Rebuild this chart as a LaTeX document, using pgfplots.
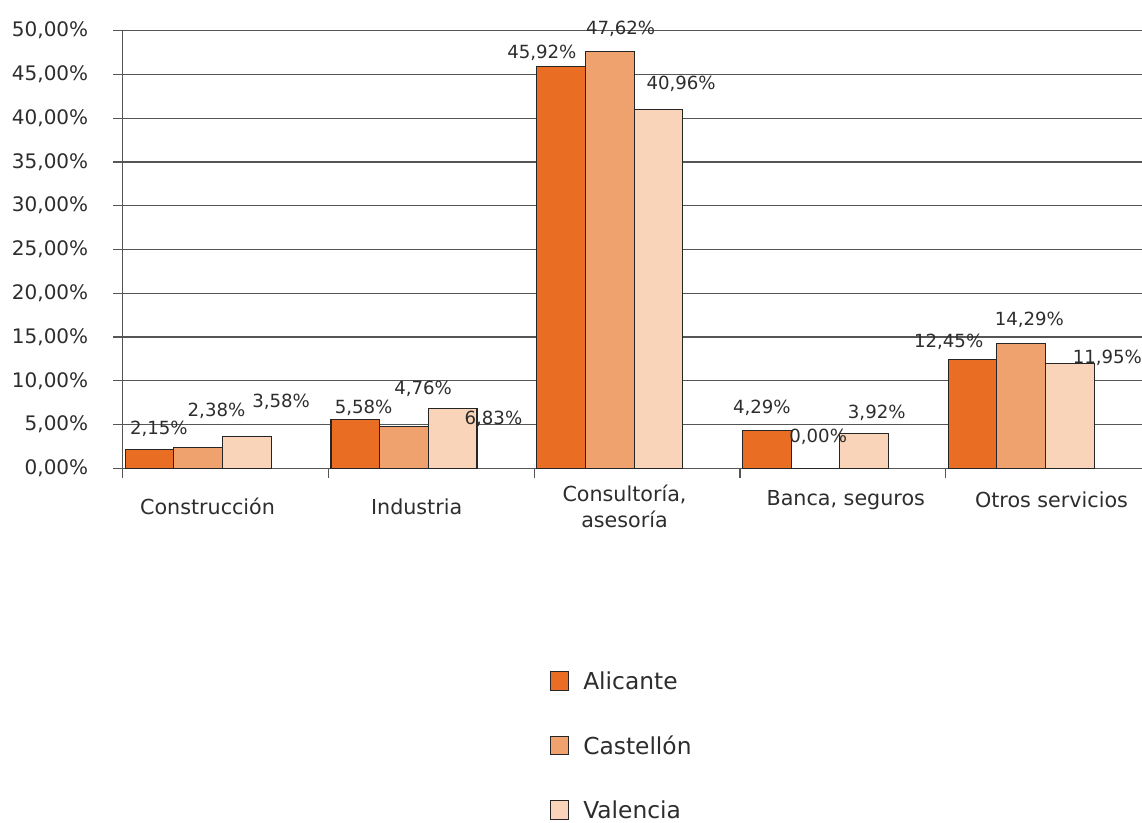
\documentclass[border=0pt]{standalone}
\usepackage{fontspec}
\setmainfont{DejaVu Sans}
\usepackage{pgfplots}
\pgfplotsset{compat=1.18}
\usepackage{pgfplotstable}

\definecolor{alic}{RGB}{233,110,35}
\definecolor{cast}{RGB}{240,162,110}
\definecolor{vale}{RGB}{249,212,184}
\definecolor{txt}{RGB}{45,45,45}
\definecolor{gridc}{RGB}{85,85,85}

% x = category, v = percentage, dx/dy = label offset (px) from bar top
\pgfplotstableread{
x v dx dy
0 2.15 9.3 20.5
1 5.58 8.3 11.8
2 45.92 -19.2 13.1
3 4.29 -5.0 22.5
4 12.45 -23.9 17.6
}\alicante
\pgfplotstableread{
x v dx dy
0 2.38 18.3 36.5
1 4.76 19.2 37.6
2 47.62 10.9 22.2
3 0.00 2.7 31.6
4 14.29 8.1 23.2
}\castellon
\pgfplotstableread{
x v dx dy
0 3.58 34.2 34.7
1 6.83 40.8 -10.5
2 40.96 22.7 25.8
3 3.92 12.6 20.7
4 11.95 37.4 5.4
}\valencia

\begin{document}
\begin{tikzpicture}
\useasboundingbox (0,0) rectangle (856.5pt,-617.25pt);
\begin{axis}[
  at={(92.0pt,-351.2pt)}, anchor=south west,
  scale only axis, width=764.5pt, height=328.2pt,
  xmin=-0.5, xmax=4.454, ymin=0, ymax=50,
  axis x line*=bottom, axis y line*=left,
  axis line style={gridc, line width=1pt},
  ybar, bar width=36.5pt,
  ytick={0,5,...,50},
  yticklabels={{0,00\%},{5,00\%},{10,00\%},{15,00\%},{20,00\%},{25,00\%},{30,00\%},{35,00\%},{40,00\%},{45,00\%},{50,00\%}},
  ymajorgrids, grid style={gridc, line width=1pt},
  xtick={0,...,4},
  xticklabels={
    {\rule{0pt}{23.5pt}\hspace*{-27pt}Construcción},
    {\rule{0pt}{23.5pt}\hspace*{-22pt}Industria},
    {\rule{0pt}{14pt}\hspace*{-18.8pt}Consultoría,\\\hspace*{-18.8pt}asesoría},
    {\rule{0pt}{17pt}\hspace*{4.4pt}Banca, seguros},
    {\rule{0pt}{18.5pt}\hspace*{4.4pt}Otros servicios}},
  minor xtick={-0.5,0.5,1.5,2.5,3.5},
  tick align=outside,
  major tick length=7.3pt, minor tick length=7pt,
  tick style={gridc, line width=1pt},
  major x tick style={draw=none},
  yticklabel style={font=\fontsize{15}{18}\selectfont, text=txt, xshift=-15pt},
  xticklabel style={font=\fontsize{15.5}{19}\selectfont, text=txt, align=center, anchor=north, yshift=-0.25pt},
  /pgf/number format/assume math mode=true,
  visualization depends on={\thisrow{dx} \as \dx},
  visualization depends on={\thisrow{dy} \as \dy},
  nodes near coords={\pgfmathprintnumber[fixed, fixed zerofill, precision=2, use comma]{\pgfplotspointmeta}\%},
  nodes near coords style={font=\fontsize{13.6}{16}\selectfont, text=txt, anchor=center,
    xshift={\dx*0.75pt}, yshift={\dy*0.75pt}},
  legend image code/.code={\draw[#1] (0pt,-5pt) rectangle (14pt,9pt);},
  legend style={at={(axis description cs:0.4185,-0.4625)}, anchor=north west, draw=none,
    font=\fontsize{17.5}{21}\selectfont, text=txt, inner sep=0pt,
    row sep=29.4pt, column sep=8.5pt,
    nodes={inner sep=2pt, text height=12pt, text depth=3pt}},
  legend cell align=left,
]
\addplot[fill=alic, draw=black!85, line width=0.8pt, bar shift=-57pt] table[x=x, y=v] {\alicante};
\addplot[fill=cast, draw=black!85, line width=0.8pt, bar shift=-20.5pt] table[x=x, y=v] {\castellon};
\addplot[fill=vale, draw=black!85, line width=0.8pt, bar shift=16pt] table[x=x, y=v] {\valencia};
\legend{Alicante,Castellón,Valencia}
\end{axis}
\end{tikzpicture}
\end{document}
